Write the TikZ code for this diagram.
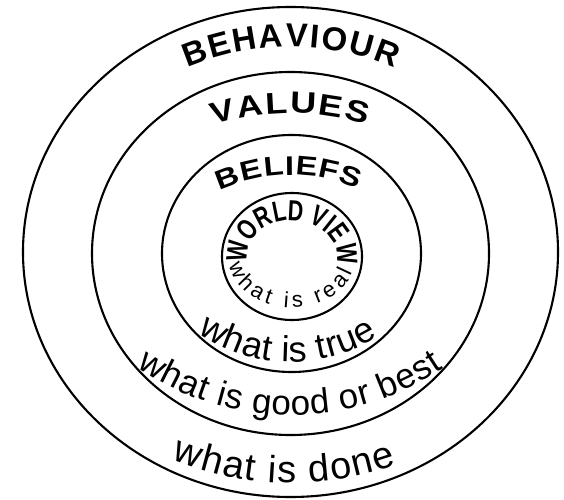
\documentclass[tikz,border=0pt]{standalone}
\usepackage{fontspec}
\setmainfont{Liberation Sans}
\newfontfamily\narrowfont[FakeStretch=0.74]{Liberation Sans}
\newfontfamily\widefont[FakeStretch=1.2]{Liberation Sans}
\usetikzlibrary{decorations.text}
\newcommand\fBeh{\fontsize{33}{33}\selectfont\bfseries}
\newcommand\fVal{\widefont\fontsize{30}{30}\selectfont\bfseries}
\newcommand\fBel{\widefont\fontsize{27}{27}\selectfont\bfseries}
\newcommand\fWor{\narrowfont\fontsize{29}{29}\selectfont\bfseries}
\newcommand\fReal{\fontsize{22}{22}\selectfont}
\newcommand\fTrue{\fontsize{36}{36}\selectfont}
\newcommand\fGood{\fontsize{35}{35}\selectfont}
\newcommand\fDone{\fontsize{38}{38}\selectfont}
\begin{document}
\begin{tikzpicture}[x=1pt,y=1pt,
  ring/.style={draw=black,line width=2.1pt},
  arctext/.style={decorate,decoration={text along path,text align={fit to path},text={#1}}}]
\useasboundingbox (0,0) rectangle (564,499);
% rings
\coordinate (cOuter) at (290.5,247);
\coordinate (cVal) at (290.5,245.5);
\coordinate (cBel) at (291.5,245.5);
\coordinate (cWor) at (292,242.5);
\draw[ring] (cOuter) ellipse[x radius=267.5pt,y radius=245pt];
\draw[ring] (cVal) ellipse[x radius=198.5pt,y radius=181.5pt];
\draw[ring] (cBel) ellipse[x radius=129.5pt,y radius=118.5pt];
\draw[ring] (cWor) ellipse[x radius=70pt,y radius=63.5pt];
% top labels
\path[arctext={|\fBeh|BEHAVIOUR},shift={(291,187)}] (113:265pt) arc[start angle=113,end angle=67,radius=265pt];
\path[arctext={|\fVal|VALUES},shift={(291,130)}] (107.7:256pt) arc[start angle=107.7,end angle=72.8,radius=256pt];
\path[arctext={|\fBel|BELIEFS},shift={(291,154)}] (114.7:170pt) arc[start angle=114.7,end angle=66.8,radius=170pt];
\path[arctext={|\fWor|WORLD VIEW},shift={(292,242.5)}] (190:45pt and 36pt) arc[start angle=190,end angle=-4,x radius=45pt,y radius=36pt];
% bottom labels
\path[arctext={|\fReal|what is real},shift={(292,242.5)}] (190:64pt and 51pt) arc[start angle=190,end angle=342,x radius=64pt,y radius=51pt];
\path[arctext={|\fTrue|what is true},shift={(291,300)}] (235.2:163pt) arc[start angle=235.2,end angle=302.3,radius=163pt];
\path[arctext={|\fGood|what is good or best},shift={(291,356)}] (235.5:272pt) arc[start angle=235.5,end angle=304,radius=272pt];
\path[arctext={|\fDone|what is done},shift={(291,327)}] (247.5:311pt) arc[start angle=247.5,end angle=289.9,radius=311pt];
\end{tikzpicture}
\end{document}
